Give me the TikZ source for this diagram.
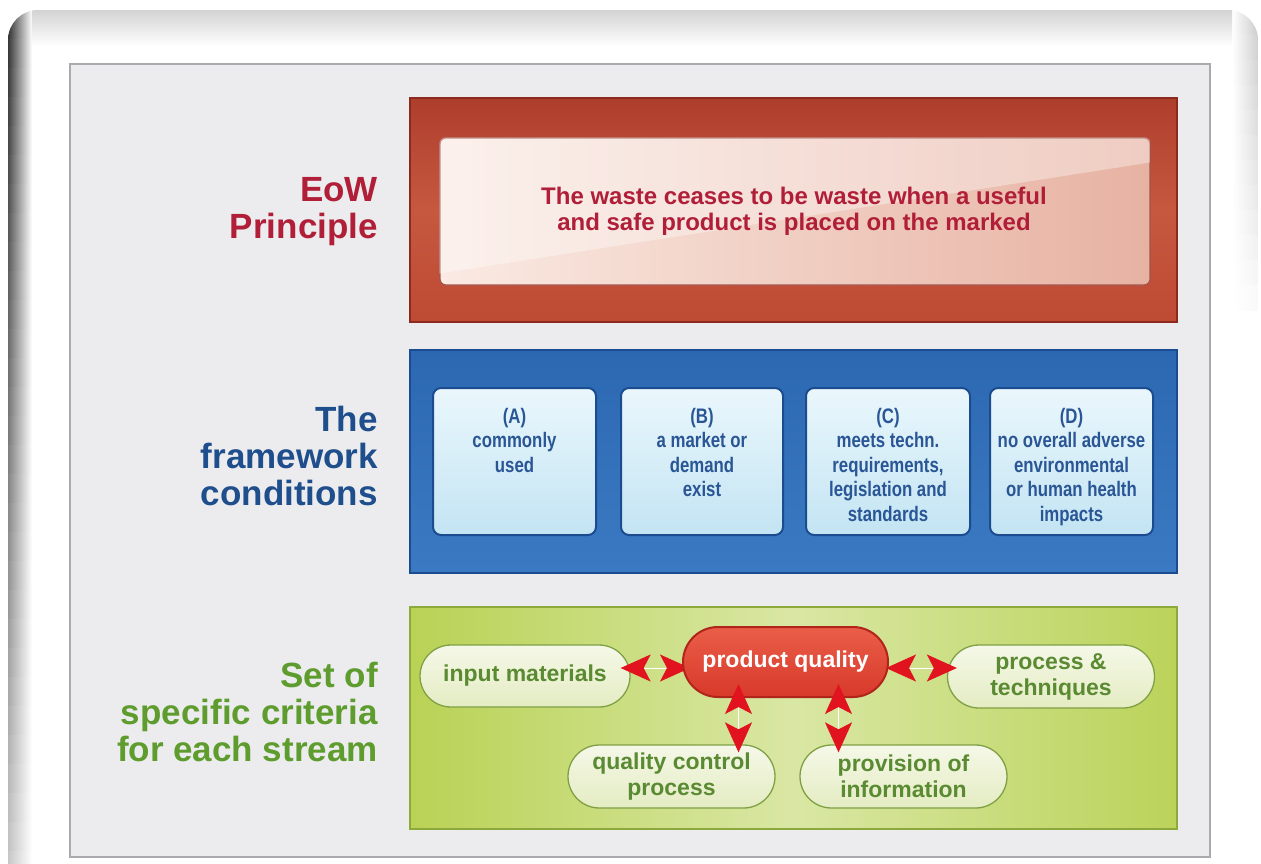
\documentclass[tikz,border=0pt]{standalone}
\usepackage{fontspec}
\setmainfont{Liberation Sans}
\newfontfamily\condfont[FakeStretch=0.8]{Liberation Sans}
\usetikzlibrary{arrows.meta,shapes.misc,calc}

\definecolor{eowred}{HTML}{B01E38}
\definecolor{fwblue}{HTML}{1E4E8C}
\definecolor{critgreen}{HTML}{5E9C2E}
\definecolor{panelgray}{HTML}{ECECEF}
\definecolor{panelline}{HTML}{A9A9AE}
\definecolor{redtop}{HTML}{AE3E2C}
\definecolor{redmid}{HTML}{C65840}
\definecolor{redbot}{HTML}{BE4A34}
\definecolor{redline}{HTML}{8C2A20}
\definecolor{pinkA}{HTML}{FAEAE3}
\definecolor{pinkB}{HTML}{E7B2A2}
\definecolor{bluetop}{HTML}{2C68B2}
\definecolor{bluebot}{HTML}{3B7AC2}
\definecolor{blueline}{HTML}{1B4C90}
\definecolor{cardtop}{HTML}{EAF7FC}
\definecolor{cardbot}{HTML}{C3E4F3}
\definecolor{cardtext}{HTML}{2A5696}
\definecolor{greenL}{HTML}{B9D255}
\definecolor{greenM}{HTML}{D9E7A4}
\definecolor{greenR}{HTML}{BBD35A}
\definecolor{greenline}{HTML}{8CAA3C}
\definecolor{ovaltop}{HTML}{F5F8E8}
\definecolor{ovalbot}{HTML}{E4ECC2}
\definecolor{ovalline}{HTML}{80A044}
\definecolor{ovaltext}{HTML}{5A8A32}
\definecolor{pqtop}{HTML}{EA5E48}
\definecolor{pqbot}{HTML}{D8392A}
\definecolor{pqline}{HTML}{B0241A}
\definecolor{arrowred}{HTML}{E0131F}

\begin{document}
\begin{tikzpicture}[x=1pt,y=-1pt,
  sidelabel/.style={anchor=east,align=right,inner sep=0pt,font=\bfseries\fontsize{35}{37}\selectfont},
  bandbox/.style={rectangle,minimum width=767pt,inner sep=0pt,line width=1.5pt},
  card/.style={rectangle,rounded corners=8pt,minimum height=147pt,inner sep=0pt,
    draw=blueline,line width=2pt,top color=cardtop,bottom color=cardbot},
  cardtext/.style={anchor=north,align=center,inner sep=0pt,text=cardtext,
    font=\condfont\bfseries\fontsize{21}{24.5}\selectfont},
  oval/.style={rounded rectangle,minimum width=207pt,minimum height=63pt,inner sep=0pt,
    draw=ovalline,line width=1.3pt,top color=ovaltop,bottom color=ovalbot,
    align=center,text=ovaltext,font=\bfseries\fontsize{23}{26}\selectfont},
  dblarrow/.style={draw=white,line width=1pt,
    {Stealth[length=30pt,width=27pt,inset=7pt,color=arrowred]}-{Stealth[length=30pt,width=27pt,inset=7pt,color=arrowred]}}
]
\useasboundingbox (0,0) rectangle (1261,863);
\fill[white] (0,0) rectangle (1261,863);

% outer bezel: white frame, darker left rim fading downwards, light rim at the top right
\begin{scope}
  \clip[rounded corners=30pt] (8,10) rectangle (1258,940);
  \fill[white] (8,10) rectangle (1258,940);
  \foreach \i in {0,...,29} {
    \pgfmathsetmacro{\shadeamt}{80-2*\i}
    \shade[left color=black!\shadeamt,right color=white]
      (8,{10+\i*29}) rectangle (32,{10+(\i+1)*29+0.5});
  }
  \foreach \i in {0,...,11} {
    \pgfmathsetmacro{\shadeamt}{40-3.2*\i}
    \shade[left color=white,right color=gray!\shadeamt]
      (1232,{10+\i*25}) rectangle (1258,{10+(\i+1)*25+0.5});
  }
  \shade[top color=gray!35,bottom color=white] (32,10) rectangle (1232,46);
\end{scope}

% inner panel
\draw[draw=panelline,line width=2pt,fill=panelgray] (70,64) rectangle (1210,857);

% --- EoW principle band
\node[bandbox,minimum height=224pt,draw=redline,top color=redtop,bottom color=redbot,middle color=redmid]
  (redband) at (793.5,210) {};
\node[rectangle,rounded corners=6pt,minimum width=710pt,minimum height=147pt,inner sep=0pt,
  draw=redline!80,line width=1.2pt,left color=pinkA,right color=pinkB] (pinkbox) at (795,211.5) {};
\begin{scope}
  \clip[rounded corners=6pt] (pinkbox.north west) rectangle (pinkbox.south east);
  \fill[white,opacity=0.35] (pinkbox.north west) -- (pinkbox.north east)
    -- ([yshift=-25pt]pinkbox.north east) -- ([yshift=12pt]pinkbox.south west) -- cycle;
\end{scope}
\node[align=center,inner sep=0pt,text=eowred,font=\bfseries\fontsize{24}{26}\selectfont]
  (eowtext) at (794,211) {The waste ceases to be waste when a useful\\and safe product is placed on the marked};
\node[sidelabel,text=eowred] (eowlabel) at (378,212) {EoW\\Principle};

% --- framework conditions band
\node[bandbox,minimum height=223pt,draw=blueline,top color=bluetop,bottom color=bluebot]
  (blueband) at (793.5,461.5) {};
\node[card,minimum width=163pt] (ca) at (514.5,461.5) {};
\node[card,minimum width=162pt] (cb) at (702,461.5) {};
\node[card,minimum width=164pt] (cc) at (888,461.5) {};
\node[card,minimum width=163pt] (cd) at (1071.5,461.5) {};
\node[cardtext] (ta) at (514.5,408) {(A)\\commonly\\used};
\node[cardtext] (tb) at (702,408) {(B)\\a market or\\demand\\exist};
\node[cardtext] (tc) at (888,408) {(C)\\meets techn.\\requirements,\\legislation and\\standards};
\node[cardtext] (td) at (1071.5,408) {(D)\\no overall adverse\\environmental\\or human health\\impacts};
\node[sidelabel,text=fwblue] (fwlabel) at (378,456) {The\\framework\\conditions};

% --- specific criteria band
\node[bandbox,minimum height=222pt,draw=greenline,left color=greenL,right color=greenR,middle color=greenM]
  (greenband) at (793.5,718) {};
\node[sidelabel,text=critgreen] (critlabel) at (378,712) {Set of\\specific criteria\\for each stream};

\node[oval,minimum width=210pt,minimum height=62pt] (im) at (525,676) {input materials};
\node[oval] (pt) at (1051,676.5) {process \&\\techniques};
\node[oval] (qc) at (671.5,776.5) {quality control\\process};
\node[oval] (pi) at (903.5,776.5) {provision of\\information};

% arrows between the criteria
\coordinate (pqw) at (683,668);
\coordinate (pqe) at (888,668);
\draw[dblarrow,shorten <=-10pt,shorten >=-7pt] (im.east |- pqw) -- (pqw);
\draw[dblarrow,shorten <=-2pt,shorten >=-10pt] (pqe) -- (pt.west |- pqe);

\node[rounded rectangle,minimum width=205pt,minimum height=70pt,inner sep=0pt,
  draw=pqline,line width=2pt,top color=pqtop,bottom color=pqbot,
  text=white,font=\bfseries\fontsize{23}{26}\selectfont] (pq) at (785.5,662) {product quality};

\draw[dblarrow,shorten <=-14pt,shorten >=-8pt] ([xshift=-47pt]pq.south) -- ([xshift=-47pt]pq.south |- qc.north);
\draw[dblarrow,shorten <=-14pt,shorten >=-8pt] ([xshift=53pt]pq.south) -- ([xshift=53pt]pq.south |- pi.north);
\end{tikzpicture}
\end{document}
